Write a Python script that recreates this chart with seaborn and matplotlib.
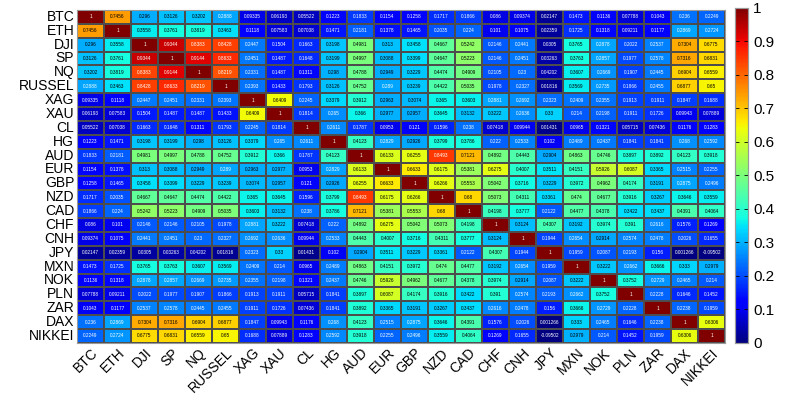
import numpy as np
import pandas as pd
import matplotlib
matplotlib.use("Agg")
import matplotlib.pyplot as plt
import seaborn as sns

# activos (filas / columnas de la matriz de correlacion)
labels = ["BTC", "ETH", "DJI", "SP", "NQ", "RUSSEL", "XAG", "XAU", "CL", "HG",
          "AUD", "EUR", "GBP", "NZD", "CAD", "CHF", "CNH", "JPY", "MXN", "NOK",
          "PLN", "ZAR", "DAX", "NIKKEI"]

# una lista por fila
btc = [1, 0.7456, 0.296, 0.3126, 0.3202, 0.2888, 0.09335, 0.06193, 0.05522, 0.1223, 0.1833, 0.1154, 0.1258, 0.1717, 0.1866, 0.086, 0.09374, 0.02147, 0.1473, 0.1136, 0.07788, 0.1043, 0.236, 0.2249]
eth = [0.7456, 1, 0.3558, 0.3761, 0.3819, 0.3463, 0.1118, 0.07583, 0.07038, 0.1471, 0.2181, 0.1378, 0.1465, 0.2035, 0.224, 0.101, 0.1075, 0.02359, 0.1725, 0.1318, 0.09211, 0.1177, 0.2869, 0.2724]
dji = [0.296, 0.3558, 1, 0.9344, 0.8383, 0.8428, 0.2447, 0.1504, 0.1663, 0.3198, 0.4981, 0.313, 0.3458, 0.4667, 0.5242, 0.2146, 0.2441, 0.0305, 0.3765, 0.2878, 0.2022, 0.2537, 0.7304, 0.6775]
sp = [0.3126, 0.3761, 0.9344, 1, 0.9144, 0.8633, 0.2451, 0.1487, 0.1648, 0.3199, 0.4997, 0.3088, 0.3399, 0.4647, 0.5223, 0.2146, 0.2451, 0.03263, 0.3763, 0.2857, 0.1977, 0.2578, 0.7316, 0.6831]
nq = [0.3202, 0.3819, 0.8383, 0.9144, 1, 0.8219, 0.2331, 0.1487, 0.1311, 0.298, 0.4788, 0.2949, 0.3229, 0.4474, 0.4909, 0.2105, 0.23, 0.04202, 0.3607, 0.2669, 0.1907, 0.2445, 0.6904, 0.6559]
russel = [0.2888, 0.3463, 0.8428, 0.8633, 0.8219, 1, 0.2393, 0.1433, 0.1793, 0.3126, 0.4752, 0.289, 0.3239, 0.4422, 0.5035, 0.1978, 0.2327, 0.01816, 0.3569, 0.2735, 0.1866, 0.2455, 0.6877, 0.65]
xag = [0.09335, 0.1118, 0.2447, 0.2451, 0.2331, 0.2393, 1, 0.6409, 0.2245, 0.3379, 0.3912, 0.2963, 0.3074, 0.365, 0.3603, 0.2881, 0.2692, 0.2323, 0.2409, 0.2355, 0.1913, 0.1911, 0.1847, 0.1688]
xau = [0.06193, 0.07583, 0.1504, 0.1487, 0.1487, 0.1433, 0.6409, 1, 0.1814, 0.265, 0.366, 0.2977, 0.2957, 0.3645, 0.3132, 0.3222, 0.2636, 0.33, 0.214, 0.2198, 0.1911, 0.1726, 0.09943, 0.07889]
cl = [0.05522, 0.07038, 0.1663, 0.1648, 0.1311, 0.1793, 0.2245, 0.1814, 1, 0.2611, 0.1787, 0.0953, 0.121, 0.1596, 0.238, 0.07418, 0.09944, 0.01431, 0.0965, 0.1321, 0.05715, 0.07436, 0.1176, 0.1283]
hg = [0.1223, 0.1471, 0.3198, 0.3199, 0.298, 0.3126, 0.3379, 0.265, 0.2611, 1, 0.4123, 0.2829, 0.2926, 0.3799, 0.3786, 0.222, 0.2533, 0.102, 0.2489, 0.2437, 0.1841, 0.1841, 0.268, 0.2592]
aud = [0.1833, 0.2181, 0.4981, 0.4997, 0.4788, 0.4752, 0.3912, 0.366, 0.1787, 0.4123, 1, 0.6133, 0.6255, 0.8493, 0.7121, 0.4892, 0.4443, 0.2904, 0.4863, 0.4746, 0.3897, 0.3892, 0.4123, 0.3918]
eur = [0.1154, 0.1378, 0.313, 0.3088, 0.2949, 0.289, 0.2963, 0.2977, 0.0953, 0.2829, 0.6133, 1, 0.6633, 0.6175, 0.5381, 0.6275, 0.4007, 0.3511, 0.4151, 0.5926, 0.6087, 0.3365, 0.2515, 0.2255]
gbp = [0.1258, 0.1465, 0.3458, 0.3399, 0.3229, 0.3239, 0.3074, 0.2957, 0.121, 0.2926, 0.6255, 0.6633, 1, 0.6266, 0.5553, 0.5042, 0.3716, 0.3229, 0.3972, 0.4962, 0.4174, 0.3191, 0.2875, 0.2496]
nzd = [0.1717, 0.2035, 0.4667, 0.4647, 0.4474, 0.4422, 0.365, 0.3645, 0.1596, 0.3799, 0.8493, 0.6175, 0.6266, 1, 0.68, 0.5073, 0.4311, 0.3361, 0.474, 0.4677, 0.3916, 0.3267, 0.3646, 0.3559]
cad = [0.1866, 0.224, 0.5242, 0.5223, 0.4909, 0.5035, 0.3603, 0.3132, 0.238, 0.3786, 0.7121, 0.5381, 0.5553, 0.68, 1, 0.4198, 0.3777, 0.2122, 0.4477, 0.4378, 0.3422, 0.3437, 0.4391, 0.4064]
chf = [0.086, 0.101, 0.2146, 0.2146, 0.2105, 0.1978, 0.2881, 0.3222, 0.07418, 0.222, 0.4892, 0.6275, 0.5042, 0.5073, 0.4198, 1, 0.3124, 0.4307, 0.3192, 0.3974, 0.391, 0.2616, 0.1576, 0.1269]
cnh = [0.09374, 0.1075, 0.2441, 0.2451, 0.23, 0.2327, 0.2692, 0.2636, 0.09944, 0.2533, 0.4443, 0.4007, 0.3716, 0.4311, 0.3777, 0.3124, 1, 0.1944, 0.2654, 0.2914, 0.2574, 0.2478, 0.2026, 0.1655]
jpy = [0.02147, 0.02359, 0.0305, 0.03263, 0.04202, 0.01816, 0.2323, 0.33, 0.01431, 0.102, 0.2904, 0.3511, 0.3229, 0.3361, 0.2122, 0.4307, 0.1944, 1, 0.1959, 0.2087, 0.2193, 0.156, 0.001266, -0.09502]
mxn = [0.1473, 0.1725, 0.3765, 0.3763, 0.3607, 0.3569, 0.2409, 0.214, 0.0965, 0.2489, 0.4863, 0.4151, 0.3972, 0.474, 0.4477, 0.3192, 0.2654, 0.1959, 1, 0.3222, 0.2662, 0.3666, 0.333, 0.2979]
nok = [0.1136, 0.1318, 0.2878, 0.2857, 0.2669, 0.2735, 0.2355, 0.2198, 0.1321, 0.2437, 0.4746, 0.5926, 0.4962, 0.4677, 0.4378, 0.3974, 0.2914, 0.2087, 0.3222, 1, 0.3752, 0.2729, 0.2465, 0.214]
pln = [0.07788, 0.09211, 0.2022, 0.1977, 0.1907, 0.1866, 0.1913, 0.1911, 0.05715, 0.1841, 0.3897, 0.6087, 0.4174, 0.3916, 0.3422, 0.391, 0.2574, 0.2193, 0.2662, 0.3752, 1, 0.2228, 0.1646, 0.1452]
zar = [0.1043, 0.1177, 0.2537, 0.2578, 0.2445, 0.2455, 0.1911, 0.1726, 0.07436, 0.1841, 0.3892, 0.3365, 0.3191, 0.3267, 0.3437, 0.2616, 0.2478, 0.156, 0.3666, 0.2729, 0.2228, 1, 0.2238, 0.1959]
dax = [0.236, 0.2869, 0.7304, 0.7316, 0.6904, 0.6877, 0.1847, 0.09943, 0.1176, 0.268, 0.4123, 0.2515, 0.2875, 0.3646, 0.4391, 0.1576, 0.2026, 0.001266, 0.333, 0.2465, 0.1646, 0.2238, 1, 0.6306]
nikkei = [0.2249, 0.2724, 0.6775, 0.6831, 0.6559, 0.65, 0.1688, 0.07889, 0.1283, 0.2592, 0.3918, 0.2255, 0.2496, 0.3559, 0.4064, 0.1269, 0.1655, -0.09502, 0.2979, 0.214, 0.1452, 0.1959, 0.6306, 1]

rows = [btc, eth, dji, sp, nq, russel, xag, xau, cl, hg, aud, eur, gbp, nzd,
        cad, chf, cnh, jpy, mxn, nok, pln, zar, dax, nikkei]
corr = pd.DataFrame(rows, index=labels, columns=labels)

# texto de cada celda con 4 cifras significativas (como matlab)
textos = corr.map(lambda v: f"{v:.4g}")

plt.rcParams["font.family"] = ["Liberation Sans", "DejaVu Sans"]

fig = plt.figure(figsize=(7.89, 3.96), dpi=100)
ax = fig.add_axes([0.0976, 0.134, 0.8214, 0.841])
cax = fig.add_axes([0.9316, 0.134, 0.0165, 0.846])

sns.heatmap(
    corr,
    ax=ax,
    cbar_ax=cax,
    cmap="jet",
    vmin=0,
    vmax=1,
    annot=textos.values,
    fmt="",
    annot_kws={"fontsize": 3.4},
    linewidths=0.25,
    linecolor=(0.3, 0.3, 0.3),
    xticklabels=labels,
    yticklabels=labels,
)

# color del texto segun luminancia del fondo
cmap = plt.get_cmap("jet")
vals = corr.values.flatten()
for t, v in zip(ax.texts, vals):
    r, g, b, _ = cmap(min(max(v, 0), 1))
    lum = 0.299 * r + 0.587 * g + 0.114 * b
    t.set_color("black" if lum > 0.5 else "white")

ax.set_xticklabels(labels, rotation=45, ha="right", rotation_mode="anchor", fontsize=10)
ax.set_yticklabels(labels, rotation=0, fontsize=10)
ax.tick_params(length=0, pad=2)
ax.set_xlabel("")
ax.set_ylabel("")
for s in ax.spines.values():
    s.set_visible(True)
    s.set_color("#999999")
    s.set_linewidth(0.8)

cax.set_yticks(np.arange(0, 1.01, 0.1))
cax.set_yticklabels(["0", "0.1", "0.2", "0.3", "0.4", "0.5", "0.6", "0.7", "0.8", "0.9", "1"])
cax.tick_params(labelsize=11, direction="in", length=3, width=0.6, left=True, right=True)
for s in cax.spines.values():
    s.set_visible(True)
    s.set_color("#999999")
    s.set_linewidth(0.8)

fig.savefig("out.png", dpi=100)
